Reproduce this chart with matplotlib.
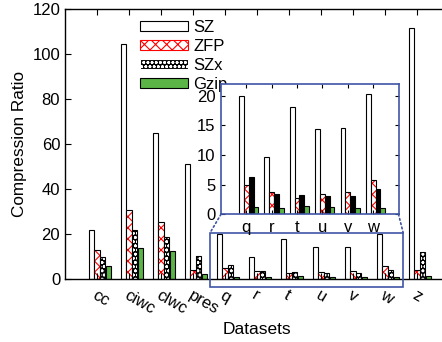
import matplotlib
matplotlib.use("Agg")
import matplotlib.pyplot as plt
import matplotlib.transforms as mtransforms
from matplotlib.patches import Rectangle, ConnectionPatch
import numpy as np

plt.rcParams["font.family"] = ["Liberation Sans", "DejaVu Sans"]
plt.rcParams["font.size"] = 12
plt.rcParams["hatch.linewidth"] = 0.8

# compression ratios per dataset
datasets = ["cc", "ciwc", "clwc", "pres", "q", "r", "t", "u", "v", "w", "z"]
sz = [21.9, 104.4, 65.0, 51.1, 20.0, 9.7, 18.0, 14.3, 14.5, 20.3, 111.6]
zfp = [13.0, 30.9, 25.5, 4.0, 4.9, 3.7, 2.8, 3.4, 3.7, 5.8, 4.1]
szx = [9.8, 21.8, 18.8, 10.2, 6.2, 3.5, 3.25, 3.0, 3.0, 4.3, 12.1]
gzip = [5.9, 13.8, 12.7, 2.4, 1.2, 1.1, 1.4, 1.2, 1.1, 1.1, 1.5]

# zoomed datasets
zoom_names = ["q", "r", "t", "u", "v", "w"]

blue = "#3f55a5"
green = "#5ab446"

fig = plt.figure(figsize=(4.42, 3.42), dpi=100)
ax = fig.add_axes([65 / 442, 62.7 / 342, 384 / 442, 270 / 342])


def draw_bars(axis, names, width, step, solid_szx=False):
    idx = [datasets.index(n) for n in names]
    x = np.arange(len(names))
    sz_v = [sz[i] for i in idx]
    zfp_v = [zfp[i] for i in idx]
    szx_v = [szx[i] for i in idx]
    gz_v = [gzip[i] for i in idx]
    axis.bar(x - step, sz_v, width, color="white", edgecolor="black", lw=0.8, label="SZ")
    axis.bar(x, zfp_v, width, color="white", edgecolor="red", hatch="xxx", lw=0)
    axis.bar(x, zfp_v, width, fill=False, edgecolor="black", lw=0.8)
    if solid_szx:
        axis.bar(x + step, szx_v, width, color="black", edgecolor="black", lw=0.8)
    else:
        axis.bar(x + step, szx_v, width, color="black", edgecolor="white", hatch="oooo", lw=0)
        axis.bar(x + step, szx_v, width, fill=False, edgecolor="black", lw=0.8)
    axis.bar(x + 2 * step, gz_v, width, color=green, edgecolor="black", lw=0.8)


draw_bars(ax, datasets, 0.17, 0.18)
ax.set_xlim(-1, 11)
ax.set_ylim(0, 120)
ax.set_xticks(np.arange(len(datasets)))
ax.set_xticklabels(datasets, rotation=-30, ha="left", va="top", rotation_mode="anchor")
shift = mtransforms.ScaledTranslation(5 / 100, 0, fig.dpi_scale_trans)
for lbl in ax.get_xticklabels():
    lbl.set_transform(lbl.get_transform() + shift)
ax.set_yticks(np.arange(0, 121, 20))
ax.tick_params(direction="in", top=True, right=True, length=4, width=0.8)
ax.tick_params(axis="x", pad=6)
ax.set_ylabel("Compression Ratio", labelpad=4, fontsize=12.3)
ax.set_xlabel("Datasets", labelpad=4, fontsize=12.5)
for s in ax.spines.values():
    s.set_linewidth(1.0)

# legend proxies
h_sz = Rectangle((0, 0), 1, 1, facecolor="white", edgecolor="black", lw=0.8)
h_zfp = Rectangle((0, 0), 1, 1, facecolor="white", edgecolor="red", hatch="xxx", lw=0.8)
h_szx = Rectangle((0, 0), 1, 1, facecolor="black", edgecolor="white", hatch="oooo", lw=0.8)
h_gz = Rectangle((0, 0), 1, 1, facecolor=green, edgecolor="black", lw=0.8)
ax.legend([h_sz, h_zfp, h_szx, h_gz], ["SZ", "ZFP", "SZx", "Gzip"],
          loc="upper left", bbox_to_anchor=(0.195, 0.962), frameon=False,
          borderpad=0, borderaxespad=0, handlelength=2.9, handleheight=0.55,
          handletextpad=0.3, labelspacing=0.24, fontsize=12)

# inset
axin = fig.add_axes([221 / 442, 127.7 / 342, 177.5 / 442, 130.6 / 342])
draw_bars(axin, zoom_names, 0.19, 0.19, solid_szx=True)
axin.set_xlim(-1, 6)
axin.set_ylim(0, 22)
axin.set_xticks(np.arange(len(zoom_names)))
axin.set_xticklabels(zoom_names)
axin.set_yticks([0, 5, 10, 15, 20])
axin.tick_params(direction="in", top=True, right=True, length=3, width=0.8, pad=4)
for s in axin.spines.values():
    s.set_edgecolor(blue)
    s.set_linewidth(1.2)

# zoom box on main axes
ax.add_patch(Rectangle((3.53, -3.4), 6.04, 24.0, fill=False, edgecolor=blue,
                       lw=1.2, clip_on=False, zorder=5))
for xa, xb in [(0, 3.53), (1, 9.57)]:
    con = ConnectionPatch(xyA=(xa, 0), coordsA=axin.transAxes,
                          xyB=(xb, 20.6), coordsB=ax.transData,
                          linestyle=":", color=blue, lw=1.2)
    fig.add_artist(con)

fig.savefig("out.png", dpi=100)
